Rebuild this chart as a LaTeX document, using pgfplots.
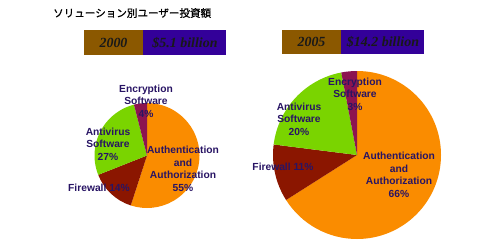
\documentclass[border=0pt]{standalone}
\usepackage{pgfplots}
\pgfplotsset{compat=1.18}
\usepackage{fontspec}
\setmainfont{Liberation Sans}
\newfontfamily\cjk[FakeBold=1]{Noto Sans CJK JP}
\newfontfamily\tms{Liberation Serif}
\definecolor{cAuth}{RGB}{250,140,0}
\definecolor{cFire}{RGB}{139,22,0}
\definecolor{cAnti}{RGB}{122,212,0}
\definecolor{cEnc}{RGB}{140,20,80}
\definecolor{cLbl}{RGB}{40,20,100}
\definecolor{cBrown}{RGB}{139,88,0}
\definecolor{cPurple}{RGB}{51,0,153}
% pie: cx, cy, radius, list of percent/colour (clockwise from 12 o'clock)
\newcommand{\pie}[4]{%
  \gdef\cum{90}%
  \foreach \v/\c in {#4}{%
    \pgfmathsetmacro\e{\cum-3.6*\v}%
    \edef\tmp{\noexpand\fill[\c] (axis cs:#1,#2) -- ++(\cum:#3bp) arc[start angle=\cum, end angle=\e, radius=#3bp] -- cycle;}%
    \tmp
    \global\let\cum\e
  }%
}
\begin{document}
\begin{tikzpicture}
\begin{axis}[
  x=1bp, y=1bp, xmin=0, xmax=500, ymin=0, ymax=250,
  hide axis, clip=false, scale only axis,
]
\path (axis cs:0,0) rectangle (axis cs:500,250);
% title
\node[anchor=west, inner sep=0, font=\cjk\fontsize{10.6}{12}\selectfont] at (axis cs:53,237) {ソリューション別ユーザー投資額};
% banners
\fill[cBrown] (axis cs:84,195) rectangle (axis cs:143,220);
\fill[cPurple] (axis cs:143,195) rectangle (axis cs:226,220);
\fill[cBrown] (axis cs:282,196) rectangle (axis cs:341,220);
\fill[cPurple] (axis cs:341,196) rectangle (axis cs:424,220);
\node[inner sep=0, font=\tms\bfseries\itshape\fontsize{14}{16}\selectfont, text=black!90] at (axis cs:113.5,207.5) {2000};
\node[inner sep=0, font=\tms\bfseries\itshape\fontsize{14}{16}\selectfont, text=black!90] at (axis cs:185,207.5) {\$5.1 billion};
\node[inner sep=0, font=\tms\bfseries\itshape\fontsize{14}{16}\selectfont, text=black!90] at (axis cs:311.5,208) {2005};
\node[inner sep=0, font=\tms\bfseries\itshape\fontsize{14}{16}\selectfont, text=black!90] at (axis cs:383,208) {\$14.2 billion};
% pies
\pie{147}{94.5}{52.5}{55/cAuth, 14/cFire, 27/cAnti, 4/cEnc}
\pie{357}{95}{84}{66/cAuth, 11/cFire, 20/cAnti, 3/cEnc}
% labels
\tikzset{lbl/.style={inner sep=0, align=center, text=cLbl, font=\bfseries\fontsize{10.3}{12.7}\selectfont}}
\node[lbl] at (axis cs:146,149) {Encryption\\Software\\4\%};
\node[lbl] at (axis cs:108,106) {Antivirus\\Software\\27\%};
\node[lbl] at (axis cs:183,81) {Authentication\\and\\Authorization\\55\%};
\node[lbl] at (axis cs:99,62) {Firewall 14\%};
\node[lbl] at (axis cs:355,156) {Encryption\\Software\\3\%};
\node[lbl] at (axis cs:299,131) {Antivirus\\Software\\20\%};
\node[lbl] at (axis cs:399,75) {Authentication\\and\\Authorization\\66\%};
\node[lbl] at (axis cs:283,83) {Firewall 11\%};
\end{axis}
\end{tikzpicture}
\end{document}
